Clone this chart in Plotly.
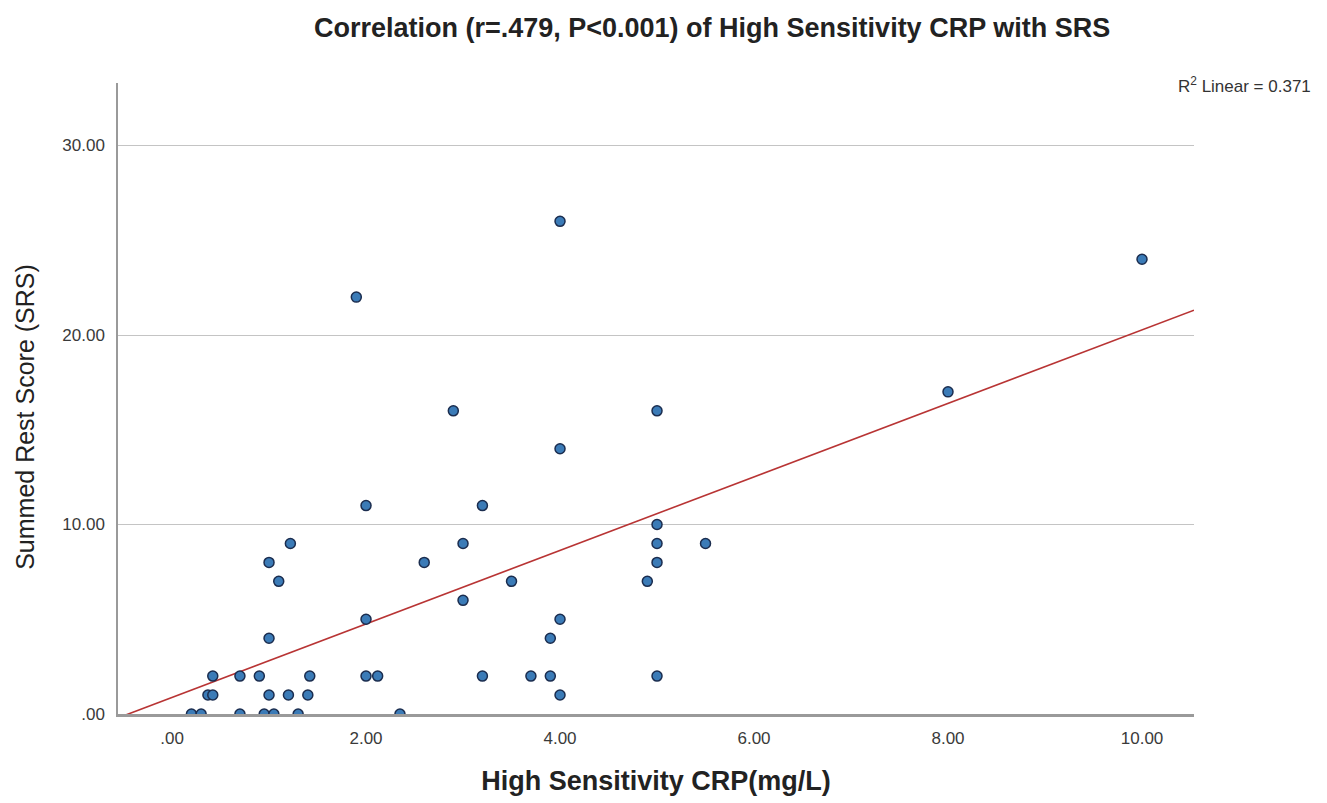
import plotly.graph_objects as go

# Data
crp = [0.2, 0.3, 0.7, 0.95, 1.05, 1.3, 2.35,
       0.37, 0.42, 1.0, 1.2, 1.4, 4.0,
       0.42, 0.7, 0.9, 1.42, 2.0, 2.12, 3.2, 3.7, 3.9, 5.0,
       1.0, 3.9,
       2.0, 4.0,
       3.0,
       1.1, 3.5, 4.9,
       1.0, 2.6, 5.0,
       1.22, 3.0, 5.0, 5.5,
       5.0,
       2.0, 3.2,
       4.0,
       2.9, 5.0,
       8.0,
       1.9,
       10.0,
       4.0]
srs = [0, 0, 0, 0, 0, 0, 0,
       1, 1, 1, 1, 1, 1,
       2, 2, 2, 2, 2, 2, 2, 2, 2, 2,
       4, 4,
       5, 5,
       6,
       7, 7, 7,
       8, 8, 8,
       9, 9, 9, 9,
       10,
       11, 11,
       14,
       16, 16,
       17,
       22,
       24,
       26]

fit_intercept = 0.874
fit_slope = 1.94

x_range = [-0.557, 10.536]
y_range = [0, 33.3]

x_tickvals = [0, 2, 4, 6, 8, 10]
x_ticktext = [".00", "2.00", "4.00", "6.00", "8.00", "10.00"]
y_tickvals = [0, 10, 20, 30]
y_ticktext = [".00", "10.00", "20.00", "30.00"]

title_text = "Correlation (r=.479, P<0.001) of High Sensitivity CRP with SRS"
x_title = "High Sensitivity CRP(mg/L)"
y_title = "Summed Rest Score (SRS)"
r2_text = "R<sup>2</sup> Linear = 0.371"

fig = go.Figure()

fit_x = list(x_range)
fit_y = [fit_intercept + fit_slope * v for v in fit_x]
fig.add_trace(go.Scatter(
    x=fit_x, y=fit_y, mode="lines",
    line=dict(color="#b83434", width=1.6),
    showlegend=False, hoverinfo="skip",
))

fig.add_trace(go.Scatter(
    x=crp, y=srs, mode="markers",
    marker=dict(size=10, color="#3b7bb7", line=dict(color="#1b2d4f", width=1.5)),
    showlegend=False,
))

fig.update_layout(
    width=1327, height=803,
    margin=dict(l=118, r=133, t=83, b=87),
    paper_bgcolor="white", plot_bgcolor="white",
    font=dict(family="Liberation Sans, Arial, sans-serif", color="#333333"),
    title=dict(text="<b>" + title_text + "</b>", x=0.5366, xanchor="center",
               y=0.966, yanchor="middle",
               font=dict(size=27, color="#222222")),
    xaxis=dict(
        range=x_range, tickvals=x_tickvals, ticktext=x_ticktext,
        showgrid=False, zeroline=False,
        showline=True, linecolor="#9a9a9a", linewidth=2.5,
        ticks="", ticklabelstandoff=7, tickfont=dict(size=17, color="#3a3a3a"),
        title=dict(text="<b>" + x_title + "</b>", font=dict(size=27, color="#222222"), standoff=24),
    ),
    yaxis=dict(
        range=y_range, tickvals=y_tickvals, ticktext=y_ticktext,
        showgrid=True, gridcolor="#c4c4c4", gridwidth=1.2, zeroline=False,
        showline=True, linecolor="#9a9a9a", linewidth=1.5,
        ticks="", ticklabelstandoff=8, tickfont=dict(size=17, color="#3a3a3a"),
    ),
    annotations=[
        dict(
            text=r2_text, xref="paper", yref="paper", x=1.0465, y=0.997,
            xanchor="center", yanchor="middle",
            showarrow=False, font=dict(size=17, color="#333333"),
        ),
        dict(
            text=y_title, xref="paper", yref="paper", x=-0.0864, y=0.471,
            xanchor="center", yanchor="middle", textangle=-90,
            showarrow=False, font=dict(size=25, color="#222222"),
        ),
    ],
)

fig.write_html("out.html")
